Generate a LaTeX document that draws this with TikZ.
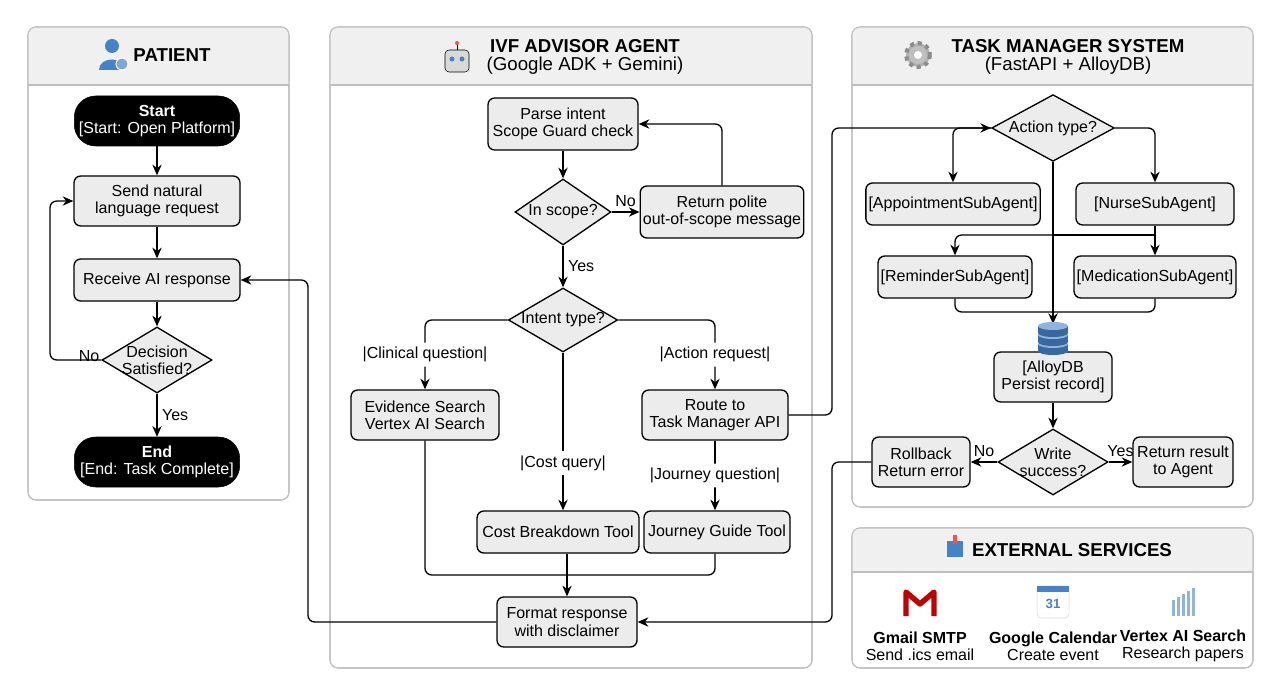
\documentclass[tikz,border=0pt]{standalone}
\usepackage{fontspec}
\setmainfont{Liberation Sans}
\usetikzlibrary{shapes.geometric,arrows.meta,positioning}
\definecolor{panelgray}{RGB}{240,240,240}
\definecolor{boxgray}{RGB}{236,236,236}
\definecolor{iconblue}{RGB}{70,130,200}
\tikzset{
  panel/.style={draw=black!25, fill=white, rounded corners=6pt, line width=0.8pt},
  box/.style={draw=black, fill=boxgray, rounded corners=5pt, line width=1pt, align=center, font=\fontsize{12}{13}\selectfont, inner sep=2pt},
  term/.style={draw=black, fill=black, text=white, rounded corners=16pt, align=center, font=\fontsize{12}{13}\selectfont, inner sep=2pt},
  dec/.style={draw=black, fill=boxgray, diamond, aspect=1.7, line width=1pt, align=center, font=\fontsize{12}{13}\selectfont, inner sep=-2pt},
  flow/.style={-{Stealth[length=8pt,width=7pt]}, line width=1pt, rounded corners=5pt},
  line/.style={line width=1pt, rounded corners=5pt},
  lab/.style={font=\fontsize{12}{13}\selectfont},
  head/.style={font=\bfseries\fontsize{14}{16}\selectfont, align=center},
}
\begin{document}
\begin{tikzpicture}[x=0.75pt,y=0.75pt,yscale=-1,xscale=1]
\useasboundingbox (0,0) rectangle (1280,698);

% panels
\foreach \xa/\ya/\xb/\yb/\yh in {28/27/289/500/85, 330/27/812/668/85, 852/27/1253/507/85, 852/528/1253/668/572}{
  \draw[panel] (\xa,\ya) rectangle (\xb,\yb);
  \begin{scope}
    \clip[rounded corners=6pt] (\xa,\ya) rectangle (\xb,\yb);
    \fill[panelgray] (\xa,\ya) rectangle (\xb,\yh);
  \end{scope}
  \draw[black!25, line width=0.8pt] (\xa,\yh) -- (\xb,\yh);
  \draw[panel, fill=none] (\xa,\ya) rectangle (\xb,\yb);
}

% headers
\fill[iconblue] (112,46) circle (7);
\fill[iconblue] (99,70) .. controls (99,56) and (125,56) .. (125,70) -- cycle;
\draw[fill=iconblue!70, draw=white, line width=0.8pt] (122,64) circle (6);
\node[head] (hpat) at (172,55) {PATIENT};
\draw[fill=black!15, rounded corners=3pt] (445,50) rectangle (469,72);
\fill[iconblue] (452,59) circle (2.5); \fill[iconblue] (462,59) circle (2.5);
\draw (457,50) -- (457,44); \fill[red!70] (457,43) circle (2);
\node[head] (hivf) at (585,57) {IVF ADVISOR AGENT\\[-2pt] \mdseries (Google ADK + Gemini)};
\draw[fill=black!30, line width=3pt, dash pattern=on 3pt off 3pt, draw=black!45] (918,55) circle (12);
\fill[black!25] (918,55) circle (9); \fill[white] (918,55) circle (4);
\node[head] (htask) at (1068,57) {TASK MANAGER SYSTEM\\[-2pt] \mdseries (FastAPI + AlloyDB)};
\fill[iconblue] (947,541) rectangle (963,557);
\fill[red!70] (953,544) rectangle (957,535);
\node[head] (hext) at (1072,550) {EXTERNAL SERVICES};

% patient lane
\node[term, minimum width=124, minimum height=37.5] (start) at (157,121) {\textbf{Start}\\{}[Start: Open Platform]};
\node[box, minimum width=124.5, minimum height=37.5] (send) at (157,201) {Send natural\\language request};
\node[box, minimum width=124.5, minimum height=31.5] (recv) at (157,280) {Receive AI response};
\node[dec, minimum width=82.5, minimum height=49.5] (sat) at (157,360) {Decision\\Satisfied?};
\node[term, minimum width=124, minimum height=37.5] (end) at (157,462) {\textbf{End}\\{}[End: Task Complete]};
\draw[flow] (start) -- (send);
\draw[flow] (send) -- (recv);
\draw[flow] (recv) -- (sat);
\draw[flow] (sat) -- node[lab, right] {Yes} (end);
\draw[flow] (sat.west) -- (50,360) |- (send.west);
\node[lab] (no1) at (89,356) {No};

% advisor lane
\node[box, minimum width=112.5, minimum height=39] (parse) at (563,124) {Parse intent\\Scope Guard check};
\node[dec, minimum width=72, minimum height=49.5] (scope) at (563,212) {In scope?};
\node[box, minimum width=121.5, minimum height=39] (polite) at (722,212) {Return polite\\out-of-scope message};
\node[dec, minimum width=82, minimum height=48] (intent) at (563,320) {Intent type?};
\node[box, minimum width=115, minimum height=31.5, inner xsep=4pt] (cost) at (558,532) {Cost Breakdown Tool};
\node[box, minimum width=111, minimum height=37.5] (evid) at (425,415) {Evidence Search\\Vertex AI Search};
\node[box, minimum width=109.5, minimum height=37.5] (route) at (715,415) {Route to\\Task Manager API};
\node[box, minimum width=109.5, minimum height=31.5] (journey) at (717,532) {Journey Guide Tool};
\node[box, minimum width=105, minimum height=37.5] (format) at (567,622) {Format response\\with disclaimer};
\draw[flow] (parse) -- (scope);
\draw[flow] (scope) -- node[lab, above] {No} (polite);
\draw[flow] (polite.north) |- (parse.east);
\draw[flow] (scope) -- node[lab, right] {Yes} (intent);
\draw[flow] (intent.west) -| node[lab, pos=0.75, fill=white] {|Clinical question|} (evid.north);
\draw[flow] (intent.east) -| node[lab, pos=0.75, fill=white] {|Action request|} (route.north);
\draw[flow] (intent.south) -- node[lab, pos=0.7, fill=white] {|Cost query|} (intent.south |- cost.north);
\draw[flow] (route) -- node[lab, fill=white] {|Journey question|} (route |- journey.north);
\draw[line] (evid.south) |- (567,575);
\draw[line] (route.south |- journey.south) |- (567,575);
\draw[flow] (format.north |- cost.south) -- (format.north);
\draw[flow] (format.west) -| (308,360) |- (recv.east);

% task manager lane
\node[dec, minimum width=92, minimum height=50] (act) at (1053,128) {Action type?};
\node[box, minimum width=123, minimum height=31.5] (appt) at (953,204) {[AppointmentSubAgent]};
\node[box, minimum width=118.5, minimum height=31.5] (nurse) at (1155,204) {[NurseSubAgent]};
\node[box, minimum width=111, minimum height=31.5] (remind) at (955,277) {[ReminderSubAgent]};
\node[box, minimum width=112.5, minimum height=31.5] (med) at (1155,277) {[MedicationSubAgent]};
\node[box, minimum width=88.5, minimum height=37.5] (db) at (1053,377) {[AlloyDB\\Persist record]};
\node[dec, minimum width=82.5, minimum height=49.5] (write) at (1053,462) {Write\\success?};
\node[box, minimum width=73.5, minimum height=37.5] (roll) at (921,462) {Rollback\\Return error};
\node[box, minimum width=75, minimum height=37.5] (ret) at (1183,462) {Return result\\to Agent};
\coordinate (split) at (1053,235);
\coordinate (join) at (1053,312);
\draw[flow] (route.east) -| (832,128) -- (act.west);
\draw[flow] (act.west) -| (appt.north);
\draw[flow] (act.east) -| (nurse.north);
\draw[flow] (act.south) -- (1053,324);
\draw[flow] (split) -| (remind.north);
\draw[flow] (nurse.south) -- (med.north);
\draw[line] (1155,235) -- (split);
\draw[line] (remind.south) |- (join);
\draw[line] (med.south) |- (join);
% database icon
\foreach \yy in {344,335,326}{
  \fill[iconblue!80!black] (1038,\yy) rectangle (1068,\yy+7);
  \fill[iconblue!80!black] (1053,\yy+7) ellipse (15 and 4);
  \fill[iconblue!60] (1053,\yy) ellipse (15 and 4);
}
\draw[flow] (db) -- (write);
\draw[flow] (write) -- node[lab, above] {No} (roll);
\draw[flow] (write) -- node[lab, above] {Yes} (ret);
\draw[flow] (roll.west) -| (832,622) -- (format.east);

% external services
\draw[line width=4pt, red!75!black, line join=round] (906,616) -- (906,592) -- (920,604) -- (934,592) -- (934,616);
\fill[white, draw=black!15, rounded corners=3pt] (1037,586) rectangle (1069,618);
\fill[iconblue] (1037,586) rectangle (1069,592);
\node[font=\bfseries\fontsize{10}{10}\selectfont, text=iconblue] (cal) at (1053,604) {31};
\foreach \i in {0,...,4}{ \fill[iconblue!60] (1172+\i*5,616) rectangle (1175+\i*5,600-\i*3); }
\node[lab, align=center] (gmail) at (920,646) {\textbf{Gmail SMTP}\\Send .ics email};
\node[lab, align=center] (gcal) at (1053,646) {\textbf{Google Calendar}\\Create event};
\node[lab, align=center] (vtx) at (1183,646) {\textbf{Vertex AI Search}\\Research papers};
\end{tikzpicture}
\end{document}
